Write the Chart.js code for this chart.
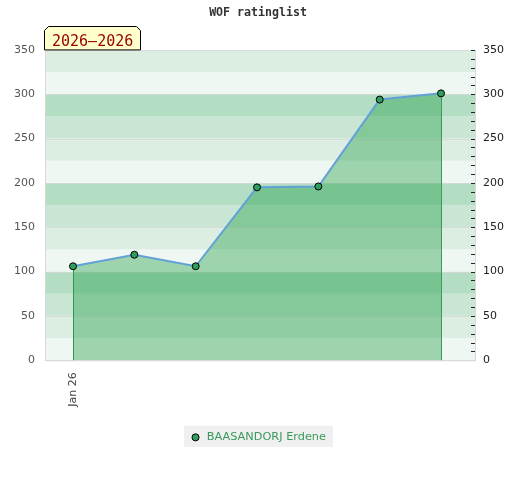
<!DOCTYPE html>
<html>
<head>
<meta charset="utf-8">
<script src="https://cdn.jsdelivr.net/npm/chart.js@4.4.0/dist/chart.umd.min.js"></script>
<style>
html,body{margin:0;padding:0;background:#fff;}
#wrap{width:520px;height:480px;position:relative;}
</style>
</head>
<body>
<div id="wrap"><canvas id="c" width="520" height="480"></canvas></div>
<script>
const chartTitle = "WOF ratinglist";
const periodLabel = "2026\u20132026";
const seriesName = "BAASANDORJ Erdene";
const xLabels = ["Jan 26", "", "", "", "", "", ""];
const ratings = [106, 119, 106, 195, 196, 294, 301];
const yTicks = [0, 50, 100, 150, 200, 250, 300, 350];

const points = ratings.map((v, i) => ({x: i, y: v}));

const bandColors = ['#eef7f1', '#dcede2', '#c9e6d4', '#b3dec4'];

const bgPlugin = {
  id: 'bg',
  beforeDatasetsDraw(chart) {
    const {ctx, chartArea: a, scales: {y}} = chart;
    ctx.save();
    for (let v = 0; v < 350; v += 25) {
      const top = y.getPixelForValue(v + 25), bot = y.getPixelForValue(v);
      ctx.fillStyle = bandColors[(v % 100) / 25];
      ctx.fillRect(a.left, top, a.right - a.left, bot - top);
    }
    ctx.strokeStyle = 'rgba(215,215,215,0.8)';
    ctx.lineWidth = 1;
    yTicks.forEach(t => {
      const py = Math.round(y.getPixelForValue(t)) + 0.5;
      ctx.beginPath(); ctx.moveTo(a.left, py); ctx.lineTo(a.right, py); ctx.stroke();
    });
    // border
    ctx.strokeStyle = '#d8d8d8';
    ctx.beginPath();
    ctx.moveTo(a.left + 0.5, a.top); ctx.lineTo(a.left + 0.5, a.bottom + 0.5);
    ctx.lineTo(a.right + 0.5, a.bottom + 0.5); ctx.lineTo(a.right + 0.5, a.top);
    ctx.stroke();
    // drop lines at first and last point
    const meta = chart.getDatasetMeta(0);
    ctx.strokeStyle = '#3d9a5c';
    [meta.data[0], meta.data[meta.data.length - 1]].forEach(p => {
      const px = Math.round(p.x) + 0.5;
      ctx.beginPath(); ctx.moveTo(px, p.y); ctx.lineTo(px, y.getPixelForValue(0)); ctx.stroke();
    });
    ctx.restore();
  },
  afterDraw(chart) {
    const {ctx, chartArea: a, scales: {y}} = chart;
    ctx.save();
    // minor ticks on right
    ctx.strokeStyle = '#222';
    ctx.lineWidth = 1;
    for (let v = 10; v <= 350; v += 10) {
      const py = Math.round(y.getPixelForValue(v)) + 0.5;
      ctx.beginPath(); ctx.moveTo(a.right - 4, py); ctx.lineTo(a.right, py); ctx.stroke();
    }
    // period label box
    const x0 = a.left - 0.5, x1 = a.left + 95.5, y0 = 26.5, y1 = a.top, c = 4;
    ctx.beginPath();
    ctx.moveTo(x0, y1); ctx.lineTo(x0, y0 + c); ctx.lineTo(x0 + c, y0);
    ctx.lineTo(x1 - c, y0); ctx.lineTo(x1, y0 + c); ctx.lineTo(x1, y1);
    ctx.closePath();
    ctx.fillStyle = '#ffffcc'; ctx.fill();
    ctx.strokeStyle = '#000'; ctx.stroke();
    ctx.fillStyle = '#990000';
    ctx.font = '15px "DejaVu Sans Mono"';
    ctx.textBaseline = 'alphabetic';
    ctx.textAlign = 'left';
    ctx.fillText(periodLabel, a.left + 7, 46);
    ctx.restore();
  },
  beforeDraw(chart) {
    const lg = chart.legend;
    if (!lg || !lg.legendHitBoxes || !lg.legendHitBoxes.length) return;
    const hb = lg.legendHitBoxes[0];
    const ctx = chart.ctx;
    ctx.save();
    ctx.fillStyle = '#f0f0f0';
    ctx.fillRect(hb.left - 6, hb.top - 6, hb.width + 13, hb.height + 10);
    ctx.restore();
  }
};

new Chart(document.getElementById('c'), {
  type: 'line',
  data: {
    datasets: [{
      label: seriesName,
      data: points,
      borderColor: '#62a0d8',
      borderWidth: 2,
      backgroundColor: 'rgba(13,150,52,0.36)',
      fill: 'origin',
      tension: 0,
      pointRadius: 3.5,
      pointHoverRadius: 3.5,
      pointBackgroundColor: '#2e9e5e',
      pointBorderColor: '#000',
      pointBorderWidth: 1
    }]
  },
  options: {
    responsive: false,
    animation: false,
    devicePixelRatio: 1,
    layout: {padding: {left: 4, right: 8, top: 0, bottom: 27}},
    plugins: {
      title: {
        display: true,
        text: chartTitle,
        color: '#333',
        font: {family: '"DejaVu Sans Mono"', size: 11.6, weight: 'bold'},
        padding: {top: 6, bottom: 30}
      },
      legend: {
        position: 'bottom',
        labels: {
          usePointStyle: true,
          pointStyle: 'circle',
          boxWidth: 11, boxHeight: 5,
          color: '#3a9a5a',
          font: {family: '"DejaVu Sans"', size: 11.3},
          padding: 8,
          generateLabels(chart) {
            return [{text: seriesName, fillStyle: '#2e9e5e', strokeStyle: '#000', lineWidth: 1, pointStyle: 'circle', datasetIndex: 0, fontColor: '#3a9a5a'}];
          }
        }
      },
      tooltip: {enabled: false}
    },
    scales: {
      x: {
        type: 'linear',
        min: -0.457, max: 6.554,
        afterBuildTicks(s) { s.ticks = xLabels.map((l, i) => ({value: i})); },
        afterFit(s) { s.height += 5; },
        ticks: {
          callback: (v) => xLabels[v] || '',
          minRotation: 90, maxRotation: 90,
          color: '#444',
          font: {family: '"DejaVu Sans"', size: 11},
          padding: 12,
          autoSkip: false
        },
        grid: {display: false, drawTicks: false},
        border: {display: false}
      },
      y: {
        position: 'left',
        min: 0, max: 350,
        afterBuildTicks(s) { s.ticks = yTicks.map(v => ({value: v})); },
        ticks: {color: '#555', font: {family: '"DejaVu Sans"', size: 11}, padding: 10},
        grid: {display: false, drawTicks: false},
        border: {display: false}
      },
      y2: {
        position: 'right',
        min: 0, max: 350,
        afterBuildTicks(s) { s.ticks = yTicks.map(v => ({value: v})); },
        ticks: {color: '#222', font: {family: '"DejaVu Sans"', size: 11}, padding: 8},
        grid: {display: false, drawTicks: false},
        border: {display: false}
      }
    }
  },
  plugins: [bgPlugin]
});
</script>
</body>
</html>
